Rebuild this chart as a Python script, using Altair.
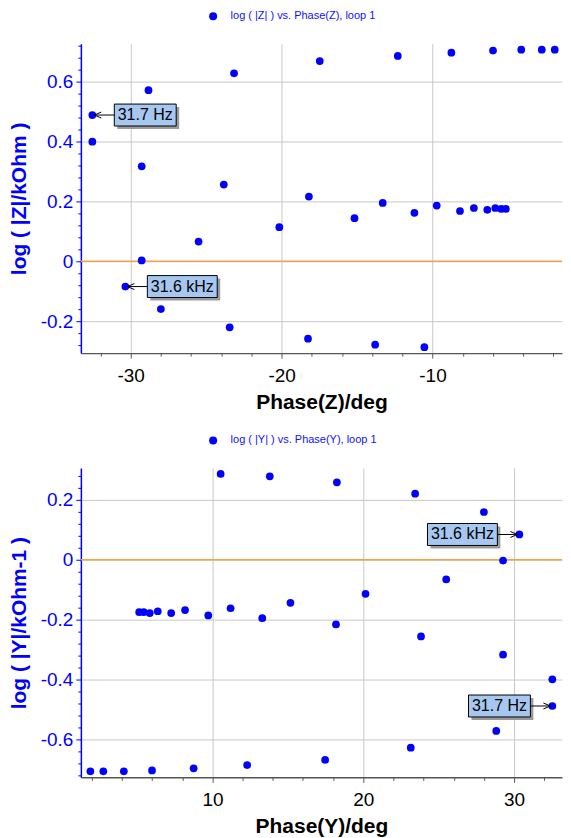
import altair as alt
import pandas as pd

# ---- data ----
phase_z = [-32.54, -28.82, -23.15, -17.47, -12.30, -8.75, -5.99, -4.12, -2.76, -1.90,
           -32.54, -29.27, -25.50, -23.83, -20.15, -18.19, -15.17, -13.30, -11.20, -9.72,
           -8.18, -7.26, -6.37, -5.84, -5.44, -5.14,
           -29.27, -30.35, -28.00, -23.44, -18.25, -13.80, -10.54]
log_z = [0.488, 0.571, 0.627, 0.668, 0.685, 0.696, 0.703, 0.706, 0.706, 0.706,
         0.399, 0.317, 0.066, 0.256, 0.114, 0.216, 0.144, 0.195, 0.162, 0.186,
         0.168, 0.178, 0.172, 0.178, 0.175, 0.175,
         0.003, -0.084, -0.159, -0.220, -0.258, -0.278, -0.286]

phase_y = [32.54, 28.82, 23.15, 17.47, 12.30, 8.75, 5.99, 4.12, 2.76, 1.90,
           32.54, 29.27, 25.50, 23.83, 20.15, 18.19, 15.17, 13.30, 11.20, 9.72,
           8.18, 7.26, 6.37, 5.84, 5.44, 5.14,
           29.27, 30.35, 28.00, 23.44, 18.25, 13.80, 10.54]
log_y = [-0.488, -0.571, -0.627, -0.668, -0.685, -0.696, -0.703, -0.706, -0.706, -0.706,
         -0.399, -0.317, -0.066, -0.256, -0.114, -0.216, -0.144, -0.195, -0.162, -0.186,
         -0.168, -0.178, -0.172, -0.178, -0.175, -0.175,
         -0.003, 0.084, 0.159, 0.220, 0.258, 0.278, 0.286]

ann_z_phase = [-32.54, -30.35]
ann_z_log = [0.488, -0.084]
ann_z_text = ["31.7 Hz", "31.6 kHz"]

ann_y_phase = [30.35, 32.54]
ann_y_log = [0.084, -0.488]
ann_y_text = ["31.6 kHz", "31.7 Hz"]

z_xticks = list(range(-32, -1, 2))
y_xticks = list(range(2, 33, 2))
z_yticks = [round(-0.28 + 0.04 * i, 2) for i in range(26)]
y_yticks = [round(-0.72 + 0.04 * i, 2) for i in range(26)]

series_z = "log ( |Z| ) vs. Phase(Z), loop 1"
series_y = "log ( |Y| ) vs. Phase(Y), loop 1"

# ---- styles ----
BLUE = "#0000ff"
ORANGE = "#f5a04a"
GRID = "#c8c8c8"
BOXFILL = "#a6c8f0"
SHADOW = "#9a9a9a"
FONT = "Liberation Sans"
W, H = 482, 310
BOX_W = {"31.7 Hz": 62, "31.6 kHz": 70}
BOX_H = 22
GAP = 22


def box_path(w, side, off=0):
    h = BOX_H / 2
    if side == "right":
        x0, x1 = GAP, GAP + w
    else:
        x0, x1 = -GAP - w, -GAP
    x0 += off
    x1 += off
    y0, y1 = -h + off, h + off
    return f"M {x0} {y0} L {x1} {y0} L {x1} {y1} L {x0} {y1} Z"


def arrow_path(side):
    if side == "right":
        return f"M {GAP} 0 L 2 0 M 9 -3 L 2 0 L 9 3"
    return f"M {-GAP} 0 L -2 0 M -9 -3 L -2 0 L -9 3"


def panel(phase, logv, ax, ay, at, side, xdom, ydom, xticks, yticks, xtitle, ytitle, series):
    df = pd.DataFrame({"phase": phase, "logv": logv, "series": [series] * len(phase)})
    major_x = "datum.value % 10 === 0"
    major_y = "abs(datum.value * 5 - round(datum.value * 5)) < 1e-6"
    xaxis = alt.Axis(
        values=xticks,
        labelExpr=f"{major_x} ? toString(datum.value) : ''",
        title=xtitle, titleFont=FONT, titleFontSize=21, titleFontWeight="bold",
        titleColor="black", titlePadding=6,
        labelFont=FONT, labelFontSize=19, labelColor="black", labelPadding=8,
        labelOverlap=False, labelFlush=False,
        domainColor="#555555", domainWidth=1.5,
        tickColor="#555555", tickWidth=1,
        tickSize={"condition": {"test": major_x, "value": 5}, "value": 3},
        grid=True, gridColor=GRID, gridWidth=1,
        gridOpacity={"condition": {"test": major_x, "value": 1}, "value": 0},
    )
    yaxis = alt.Axis(
        values=yticks,
        labelExpr=f"{major_y} ? toString(round(datum.value * 10) / 10) : ''",
        title=ytitle, titleFont=FONT, titleFontSize=21, titleFontWeight="bold",
        titleColor=BLUE, titlePadding=11,
        labelFont=FONT, labelFontSize=19, labelColor=BLUE, labelPadding=3,
        labelOverlap=False, labelFlush=False,
        domainColor=BLUE, domainWidth=1.5,
        tickColor=BLUE, tickWidth=1,
        tickSize={"condition": {"test": major_y, "value": 5}, "value": 3},
        grid=True, gridColor=GRID, gridWidth=1,
        gridOpacity={"condition": {"test": major_y, "value": 1}, "value": 0},
    )
    X = alt.X("phase:Q", scale=alt.Scale(domain=xdom, nice=False, zero=False), axis=xaxis)
    Y = alt.Y("logv:Q", scale=alt.Scale(domain=ydom, nice=False, zero=False), axis=yaxis)

    rule = alt.Chart(pd.DataFrame({"logv": [0.0]})).mark_rule(
        color=ORANGE, strokeWidth=1.5).encode(y=Y)

    pts = alt.Chart(df).mark_point(filled=True, size=60, opacity=1).encode(
        x=X, y=Y,
        color=alt.Color("series:N", scale=alt.Scale(range=[BLUE]),
                        legend=alt.Legend(title=None, orient="none", legendX=127, legendY=-33,
                                          labelFont=FONT, labelFontSize=11, labelColor="#1010ff",
                                          symbolSize=64, symbolType="circle", symbolStrokeWidth=0,
                                          labelOffset=12, padding=0)),
    )

    layers = [rule, pts]
    for x, y, t in zip(ax, ay, at):
        d = pd.DataFrame({"phase": [x], "logv": [y], "label": [t]})
        base = alt.Chart(d).encode(x=X, y=Y)
        w = BOX_W[t]
        layers.append(base.mark_point(shape=box_path(w, side, 3), size=4, filled=True,
                                      fill=SHADOW, strokeWidth=0, opacity=1))
        layers.append(base.mark_point(shape=box_path(w, side, 0), size=4, filled=True,
                                      fill=BOXFILL, stroke="black", strokeWidth=1, opacity=1))
        dx = GAP + w / 2 if side == "right" else -(GAP + w / 2)
        layers.append(base.mark_text(dx=dx, align="center", baseline="middle", font=FONT,
                                     fontSize=16, color="black").encode(text="label:N"))
        layers.append(base.mark_point(shape=arrow_path(side), size=4, filled=False,
                                      color="black", strokeWidth=1, opacity=1))
    return alt.layer(*layers).properties(width=W, height=H)


top = panel(phase_z, log_z, ann_z_phase, ann_z_log, ann_z_text, "right",
            [-33.3, -1.42], [-0.306, 0.726], z_xticks, z_yticks,
            "Phase(Z)/deg", "log ( |Z|/kOhm )", series_z)
bottom = panel(phase_y, log_y, ann_y_phase, ann_y_log, ann_y_text, "left",
               [1.27, 33.18], [-0.726, 0.306], y_xticks, y_yticks,
               "Phase(Y)/deg", "log ( |Y|/kOhm-1 )", series_y)

chart = alt.vconcat(top, bottom, spacing=23).resolve_scale(color="independent").properties(
    padding={"left": 0, "right": 0, "top": 2, "bottom": 0}
).configure_view(stroke=None)

chart.save("out.html", embed_options={"renderer": "svg", "actions": False})
